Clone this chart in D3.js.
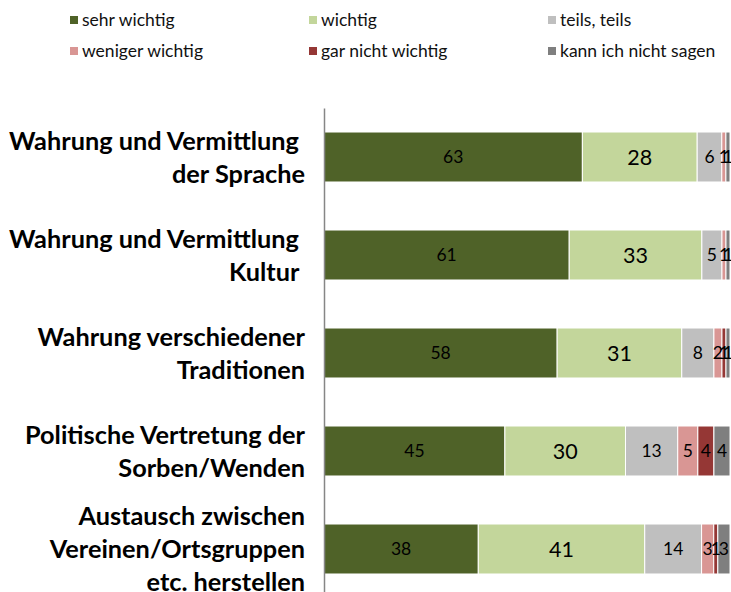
<!DOCTYPE html>
<html><head><meta charset="utf-8">
<script src="https://cdn.jsdelivr.net/npm/d3@7"></script>
<style>body{margin:0;background:#fff} svg{display:block}</style>
</head><body><svg id="c" width="731" height="592"></svg>
<script>
const categoryLines = [
  ["Wahrung und Vermittlung ", "der Sprache"],
  ["Wahrung und Vermittlung ", "Kultur "],
  ["Wahrung verschiedener", "Traditionen"],
  ["Politische Vertretung der", "Sorben/Wenden"],
  ["Austausch zwischen", "Vereinen/Ortsgruppen", "etc. herstellen"]
];
const seriesNames = ["sehr wichtig", "wichtig", "teils, teils", "weniger wichtig", "gar nicht wichtig", "kann ich nicht sagen"];
const sehrWichtig   = [63, 61, 58, 45, 38];
const wichtig       = [28, 33, 31, 30, 41];
const teilsTeils    = [6, 5, 8, 13, 14];
const wenigerWichtig = [1, 1, 2, 5, 3];
const garNicht      = [0, 0, 1, 4, 1];
const kannNicht     = [1, 1, 1, 4, 3];

const seriesValues = [sehrWichtig, wichtig, teilsTeils, wenigerWichtig, garNicht, kannNicht];
const colors = ["#4F6228", "#C3D69B", "#BFBFBF", "#D99694", "#953735", "#7F7F7F"];
const labelFont = [17.5, 21.5, 17.5, 17.5, 17.5, 17.5];
const FONT = "Lato, 'Open Sans', sans-serif";

const svg = d3.select("#c");
const keys = seriesNames.map((_, i) => "s" + i);
const table = categoryLines.map((c, ci) => {
  const row = {cat: ci};
  keys.forEach((k, si) => row[k] = seriesValues[si][ci]);
  return row;
});
const stacked = d3.stack().keys(keys).offset(d3.stackOffsetExpand)(table);

const x = d3.scaleLinear().domain([0, 1]).range([324, 730]);
const y = d3.scaleBand().domain(d3.range(categoryLines.length)).range([108, 598])
  .paddingInner(0.49).paddingOuter(0.245);

// bars
const g = svg.append("g");
stacked.forEach((layer, si) => {
  g.append("g").selectAll("rect").data(layer).join("rect")
    .attr("x", d => x(d[0]))
    .attr("y", d => y(d.data.cat))
    .attr("width", d => Math.max(0, x(d[1]) - x(d[0])))
    .attr("height", y.bandwidth())
    .attr("fill", colors[si])
    .attr("stroke", "#fff")
    .attr("stroke-width", 1);
});
// value labels
stacked.forEach((layer, si) => {
  g.append("g").selectAll("text").data(layer.filter(d => d.data[keys[si]] > 0)).join("text")
    .attr("x", d => (x(d[0]) + x(d[1])) / 2)
    .attr("y", d => y(d.data.cat) + y.bandwidth() / 2)
    .attr("dy", "0.36em")
    .attr("text-anchor", "middle")
    .attr("font-family", FONT)
    .attr("font-size", labelFont[si])
    .attr("fill", "#000")
    .text(d => d.data[keys[si]]);
});

// vertical axis
const ax = svg.append("g").attr("transform", "translate(324,0)")
  .call(d3.axisLeft(y).tickSize(0).tickSizeOuter(0).tickFormat(""));
ax.select(".domain").attr("stroke", "#868686").attr("stroke-width", 1.5);

// category labels
const labG = svg.append("g").attr("font-family", FONT).attr("font-weight", "bold").attr("fill", "#000");
const lineH = 33;
let fs = 20;
const probe = labG.append("text").attr("font-size", 20).text("Wahrung und Vermittlung");
fs = 20 * 290 / probe.node().getComputedTextLength();
probe.remove();
categoryLines.forEach((lines, ci) => {
  const cy = y(ci) + y.bandwidth() / 2;
  const n = lines.length;
  lines.forEach((ln, li) => {
    labG.append("text")
      .attr("xml:space", "preserve")
      .attr("x", 305)
      .attr("y", cy + (li - (n - 1) / 2) * lineH)
      .attr("dy", "0.36em")
      .attr("text-anchor", "end")
      .attr("font-size", fs)
      .text(ln);
  });
});

// legend
const legX = [70, 309, 548], legY = [20, 51];
const leg = svg.append("g").attr("font-family", FONT);
seriesNames.forEach((name, i) => {
  const lx = legX[i % 3], ly = legY[Math.floor(i / 3)];
  leg.append("rect").attr("x", lx).attr("y", ly - 4).attr("width", 8).attr("height", 8).attr("fill", colors[i]);
  leg.append("text").attr("x", lx + 12).attr("y", ly).attr("dy", "0.35em")
    .attr("font-size", 17.5).attr("fill", "#111").text(name);
});
</script>
</body></html>
